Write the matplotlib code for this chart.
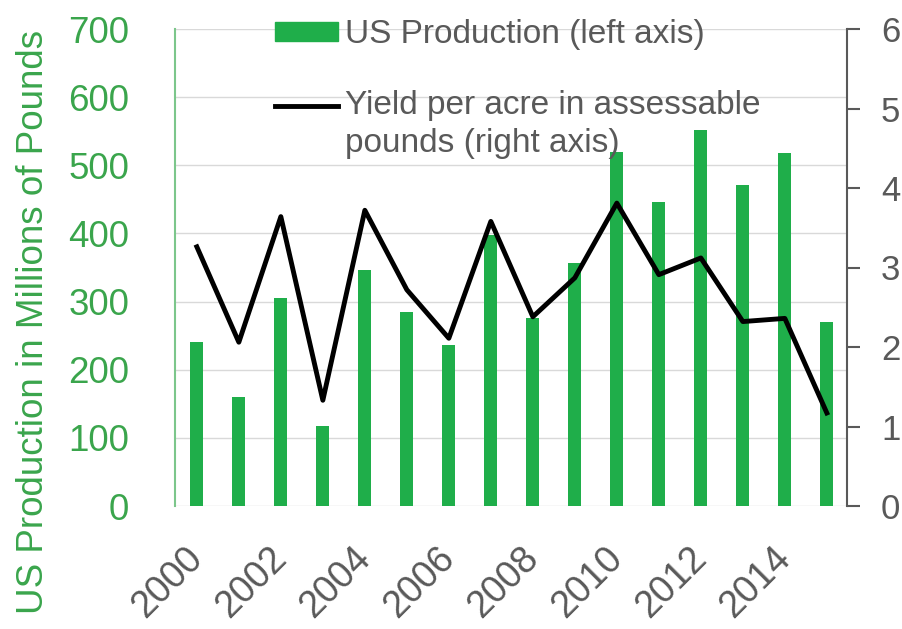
import matplotlib
matplotlib.use("Agg")
import numpy as np
import matplotlib.pyplot as plt
from matplotlib.lines import Line2D
from matplotlib.patches import Patch
from matplotlib.legend_handler import HandlerLine2D

plt.rcParams['font.family'] = ['Liberation Sans', 'DejaVu Sans']

years = list(range(2000, 2016))
production = [241, 160, 305, 117, 347, 284, 236, 398, 276, 357, 520, 446, 552, 471, 518, 270]
yield_per_acre = [3.26, 2.06, 3.64, 1.33, 3.72, 2.72, 2.11, 3.58, 2.38, 2.87, 3.81, 2.91, 3.12, 2.32, 2.36, 1.17]
xtick_years = [2000, 2002, 2004, 2006, 2008, 2010, 2012, 2014]
left_ticks = [0, 100, 200, 300, 400, 500, 600, 700]
right_ticks = [0, 1, 2, 3, 4, 5, 6]

GREEN = '#1fae4a'
GREEN_TXT = '#3aa54c'
GRAY = '#595959'


class HandlerLineFirstRow(HandlerLine2D):
    def __init__(self, dy=0, **kw):
        super().__init__(**kw)
        self.dy = dy

    def create_artists(self, legend, orig_handle, xdescent, ydescent, width,
                       height, fontsize, trans):
        arts = super().create_artists(legend, orig_handle, xdescent, ydescent,
                                      width, height, fontsize, trans)
        for a in arts:
            a.set_ydata(np.asarray(a.get_ydata(), dtype=float) + self.dy)
        return arts


fig = plt.figure(figsize=(9.03, 6.29), dpi=100)
ax = fig.add_axes([175/903, 1-506/629, 672/903, 477/629])
ax2 = ax.twinx()

ax.bar(years, production, width=0.31, color=GREEN, zorder=2)
ax.set_ylim(0, 700)
ax.set_xlim(1999.48, 2015.48)
ax.set_yticks(left_ticks)
ax.yaxis.grid(True, color='#d9d9d9', lw=1.0, zorder=0)
ax.set_axisbelow(True)
ax.tick_params(axis='y', length=0, pad=33, labelsize=26.5, labelcolor=GREEN_TXT)
ax.set_xticks(xtick_years)
ax.set_xticklabels([str(y) for y in xtick_years], rotation=45, ha='right',
                   va='center', rotation_mode='anchor')
ax.tick_params(axis='x', length=0, pad=34, labelsize=27, labelcolor=GRAY)
for s in ['top', 'right', 'bottom']:
    ax.spines[s].set_visible(False)
ax.spines['left'].set_color('#7cc68b')
ax.spines['left'].set_linewidth(1.5)

ax.set_ylabel('US Production in Millions of Pounds', fontsize=26.5, color=GREEN_TXT)
ax.yaxis.set_label_coords((33-175)/672, (506-322)/477)
ax.yaxis.label.set_va('center')
ax.yaxis.label.set_ha('center')

ax2.plot(years, yield_per_acre, color='black', lw=3.5, zorder=3)
ax2.set_ylim(0, 6)
ax2.set_yticks(right_ticks)
ax2.tick_params(axis='y', direction='out', length=9.5, width=1.5, color=GRAY,
                pad=15, labelsize=25, labelcolor=GRAY)
for s in ['top', 'left', 'bottom']:
    ax2.spines[s].set_visible(False)
ax2.spines['right'].set_color(GRAY)
ax2.spines['right'].set_linewidth(1.5)

yield_handle = Line2D([], [], color='black', lw=3.5)
handles = [Patch(color=GREEN), yield_handle]
labels = ['US Production (left axis)',
          'Yield per acre in assessable\npounds (right axis)']
leg = ax2.legend(handles, labels, loc='upper left',
                 bbox_to_anchor=(275/903, 1-19/629), bbox_transform=fig.transFigure,
                 frameon=False, fontsize=24, handlelength=1.9, handleheight=0.5,
                 handletextpad=0.2, labelspacing=1.2, borderpad=0, borderaxespad=0,
                 handler_map={yield_handle: HandlerLineFirstRow(dy=14)})
for t in leg.get_texts():
    t.set_color(GRAY)
    t.set_linespacing(1.28)

fig.savefig('out.png', dpi=100)
